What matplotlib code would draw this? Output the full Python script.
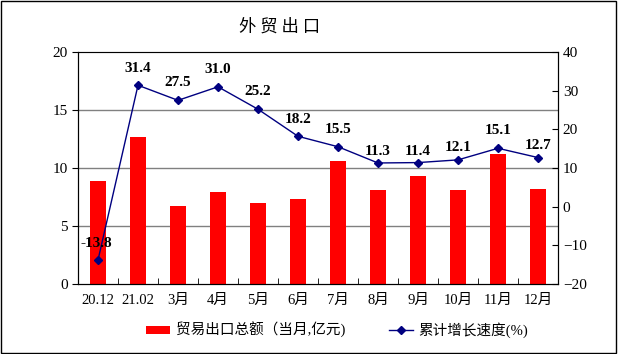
import numpy as np
import matplotlib.pyplot as plt
from matplotlib.patches import Rectangle

plt.rcParams['font.family'] = ['Liberation Serif', 'Noto Sans CJK SC']

# 数据
categories = ['20.12', '21.02', '3月', '4月', '5月', '6月', '7月', '8月', '9月', '10月', '11月', '12月']
export_values = [8.9, 12.7, 6.7, 7.9, 7.0, 7.3, 10.6, 8.1, 9.3, 8.1, 11.2, 8.2]
growth_rate = [-13.8, 31.4, 27.5, 31.0, 25.2, 18.2, 15.5, 11.3, 11.4, 12.1, 15.1, 12.7]

# 数据标签相对折线点的偏移 (points)
label_dy = [12.2, 12.2, 13, 12.2, 13, 12.2, 12.2, 8.6, 8, 8.6, 13, 8.6]

fig = plt.figure(figsize=(6.18, 3.54), dpi=100)
ax = fig.add_axes([78/618, 1-284/354, 480/618, 232/354])
x = np.arange(len(categories))

# 柱状图
bars = ax.bar(x, export_values, width=0.38, color='#ff0000', zorder=2,
              label='贸易出口总额（当月,亿元)')
ax.set_ylim(0, 20)
ax.set_xlim(-0.5, len(categories) - 0.5)
ax.set_yticks([0, 5, 10, 15, 20])
for yv in [5, 10, 15]:
    ax.axhline(yv, color='#808080', lw=1, zorder=1)
ax.spines['top'].set_color('#808080')
ax.set_xticks(x)
ax.set_xticklabels(categories, fontsize=10.5)
ax.tick_params(axis='x', length=0, pad=7)
ax.set_xticks(np.arange(-0.5, len(categories), 1), minor=True)
ax.tick_params(axis='x', which='minor', direction='in', length=4)
ax.tick_params(axis='y', labelsize=11, direction='out', length=4)

# 折线图
ax2 = ax.twinx()
ax2.set_ylim(-20, 40)
ax2.set_yticks(np.arange(-20, 41, 10))
ax2.tick_params(axis='y', labelsize=11, direction='in', length=4)
line, = ax2.plot(x, growth_rate, color='#000080', lw=1, marker='D', markersize=4.3,
                 label='累计增长速度(%)', zorder=3)
for i, v in enumerate(growth_rate):
    dx = -1.5 if i == 0 else 0
    ax2.annotate(f'{v:.1f}', (x[i], v), xytext=(dx, label_dy[i]), textcoords='offset points',
                 ha='center', va='center', fontsize=11, fontweight='bold')

# 标题
fig.text(280/618, 1-27/354, '外 贸 出 口', ha='center', va='center', fontsize=12.5,
         family=['Noto Sans CJK SC'])

# 图例
fig.legend(handles=[bars, line], loc='center', bbox_to_anchor=(337/618, 1-330/354),
           ncol=2, frameon=False, handlelength=1.65, handleheight=0.45,
           handletextpad=0.35, columnspacing=3.0,
           prop={'family': ['Liberation Serif', 'Noto Sans CJK SC'], 'size': 10.5})

# 外框
fig.patches.append(Rectangle((0.002, 0.003), 0.995, 0.994, transform=fig.transFigure,
                             fill=False, edgecolor='black', lw=1))

fig.savefig('out.png', dpi=100)
